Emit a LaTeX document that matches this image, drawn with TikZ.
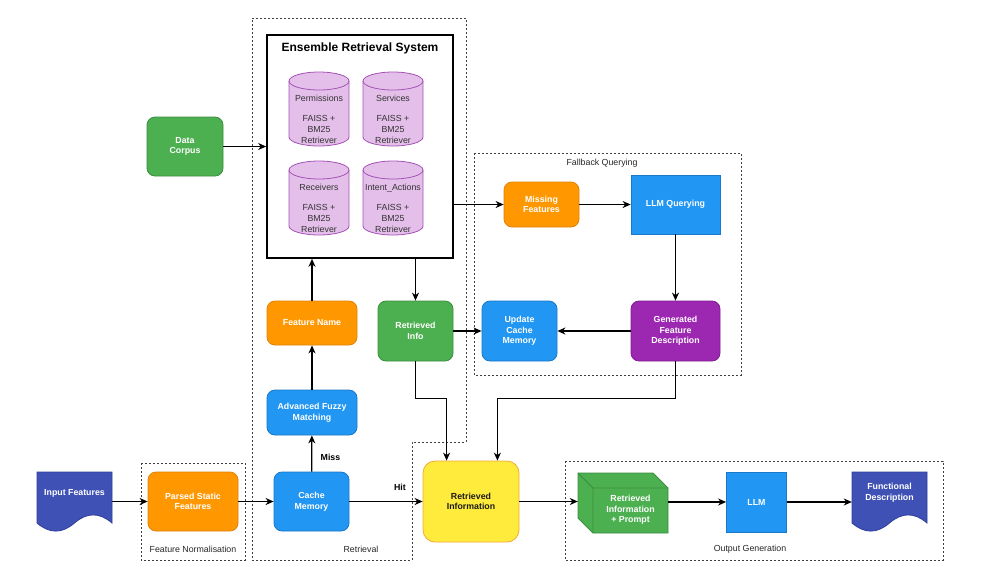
\documentclass[tikz,border=0pt]{standalone}
\usepackage{fontspec}
\setmainfont{Liberation Sans}
\usepackage{xcolor}
\usetikzlibrary{arrows.meta}
\definecolor{matorange}{HTML}{FF9800}
\definecolor{orangeline}{HTML}{E0810A}
\definecolor{matblue}{HTML}{2196F3}
\definecolor{blueline}{HTML}{1A78C8}
\definecolor{matgreen}{HTML}{4CAF50}
\definecolor{greenline}{HTML}{3B8E3F}
\definecolor{matpurple}{HTML}{9C27B0}
\definecolor{purpleline}{HTML}{7D1F8E}
\definecolor{matindigo}{HTML}{3F51B5}
\definecolor{indigoline}{HTML}{2F3F99}
\definecolor{matyellow}{HTML}{FFEB3B}
\definecolor{yellowline}{HTML}{F2A93B}
\definecolor{cylfill}{HTML}{E4BFEA}
\definecolor{cylline}{HTML}{A553B5}

% document shape, top-left corner, width, height
\newcommand{\docshape}[3]{%
  \begin{scope}[shift={#1}, x={(#2,0)}, y={(0,-#3)}]
    \path[docpaint] (0,0) -- (1,0) -- (1,0.85)
      .. controls (0.8333,0.67) and (0.6667,0.67) .. (0.5,0.85)
      .. controls (0.3333,1.03) and (0.1667,1.03) .. (0,0.85) -- cycle;
  \end{scope}}
% retriever cylinder: name, centre, text
\newcommand{\dbcyl}[3]{%
  \begin{scope}[shift={#2}]
    \path[fill=cylfill, draw=cylline, line width=0.8pt] (-30,28) -- (-30,-28)
      arc[start angle=180, end angle=360, x radius=30, y radius=9] -- (30,28)
      arc[start angle=0, end angle=180, x radius=30, y radius=9] -- cycle;
    \draw[draw=cylline, line width=0.8pt] (-30,28) arc[start angle=180, end angle=360, x radius=30, y radius=9];
    \node[cyltext] (#1) at (0,-10) {#3};
  \end{scope}}

\begin{document}
\begin{tikzpicture}[
  x=1pt, y=1pt,
  lbl/.style={font=\fontsize{8.8}{10.6}\selectfont\bfseries, text=white, align=center},
  box/.style={lbl, rectangle, rounded corners=8pt, line width=0.8pt, inner sep=2pt},
  orangebox/.style={box, fill=matorange, draw=orangeline},
  bluebox/.style={box, fill=matblue, draw=blueline},
  greenbox/.style={box, fill=matgreen, draw=greenline},
  purplebox/.style={box, fill=matpurple, draw=purpleline},
  plainblue/.style={box, rounded corners=0pt, fill=matblue, draw=blueline},
  docpaint/.style={fill=matindigo, draw=indigoline, line width=0.8pt},
  cyltext/.style={font=\fontsize{8.8}{10.7}\selectfont, text=black!80, align=center},
  group/.style={draw=black!75, line width=0.7pt, dash pattern=on 2pt off 2pt},
  grouptitle/.style={font=\fontsize{8.8}{11}\selectfont, text=black!85},
  edgelbl/.style={font=\fontsize{8.8}{11}\selectfont\bfseries, text=black},
  arr/.style={-{Stealth[length=8pt,width=7pt,inset=2.5pt]}, line width=1.2pt}
]
\useasboundingbox (0,0) rectangle (985,-574);

% group outlines
\draw[group] (252,-18) -- (466,-18) -- (466,-442) -- (412,-442) -- (412,-560) -- (252,-560) -- cycle;
\draw[group] (474,-153) rectangle (741,-375);
\draw[group] (141,-463) rectangle (245,-560);
\draw[group] (565,-461) rectangle (943,-560);
\node[grouptitle] (retrievaltitle) at (361,-549) {Retrieval};
\node[grouptitle] (fallbacktitle) at (602,-163) {Fallback Querying};
\node[grouptitle] (normtitle) at (193,-549) {Feature Normalisation};
\node[grouptitle] (outtitle) at (750,-549) {Output Generation};

% ensemble retrieval system
\node[draw=black, line width=1.6pt, minimum width=186, minimum height=223] (ens) at (360,-146.5) {};
\node[font=\fontsize{12}{14}\selectfont\bfseries] (enstitle) at (360,-48) {Ensemble Retrieval System};
\dbcyl{perm}{(319,-109)}{Permissions\\[10pt]FAISS +\\BM25\\Retriever}
\dbcyl{serv}{(393,-109)}{Services\\[10pt]FAISS +\\BM25\\Retriever}
\dbcyl{recv}{(319,-198)}{Receivers\\[10pt]FAISS +\\BM25\\Retriever}
\dbcyl{intent}{(393,-198)}{Intent\_Actions\\[10pt]FAISS +\\BM25\\Retriever}

% nodes
\docshape{(37,-472)}{75}{60}
\node[minimum width=75, minimum height=60] (inp) at (74.5,-502) {};
\node[lbl] (inptxt) at (74.5,-493) {Input Features};
\node[orangebox, minimum width=90, minimum height=59] (parsed) at (193,-501.5) {Parsed Static\\Features};
\node[bluebox, minimum width=75, minimum height=59] (cache) at (311.5,-501.5) {Cache\\Memory};
\node[bluebox, minimum width=90, minimum height=45] (fuzzy) at (312,-412.5) {Advanced Fuzzy\\Matching};
\node[orangebox, minimum width=90, minimum height=44] (fname) at (312,-323) {Feature Name};
\node[greenbox, minimum width=76, minimum height=59] (corpus) at (185,-146.5) {Data\\Corpus};
\node[greenbox, minimum width=75, minimum height=60] (rinfo) at (415.5,-331) {Retrieved\\Info};
\node[orangebox, minimum width=75, minimum height=45] (missing) at (541.5,-204.5) {Missing\\Features};
\node[plainblue, minimum width=89, minimum height=59] (llmq) at (675.5,-204.5) {LLM Querying};
\node[purplebox, minimum width=89, minimum height=60] (gen) at (675.5,-331) {Generated\\Feature\\Description};
\node[bluebox, minimum width=75, minimum height=60] (update) at (519.5,-331) {Update\\Cache\\Memory};
\node[box, rounded corners=12pt, fill=matyellow, draw=yellowline, text=black!90, minimum width=96, minimum height=81] (rinf) at (471,-501.5) {Retrieved\\Information};

% cube
\path[fill=matgreen, draw=greenline, line width=0.8pt] (578,-473) -- (653,-473) -- (668,-488) -- (668,-533) -- (593,-533) -- (578,-518) -- cycle;
\draw[greenline, line width=0.8pt] (578,-473) -- (593,-488) -- (668,-488) (593,-488) -- (593,-533);
\node[minimum width=90, minimum height=60] (prompt) at (623,-503) {};
\node[lbl] (prompttxt) at (630.5,-510) {Retrieved\\Information\\+ Prompt};

\node[plainblue, minimum width=60, minimum height=60] (llm) at (756.5,-502) {LLM};
\docshape{(852,-472)}{75}{60}
\node[minimum width=75, minimum height=60] (func) at (889.5,-502) {};
\node[lbl] (functxt) at (889.5,-493) {Functional\\Description};

% connectors
\draw[arr] (inp.east |- parsed.west) -- (parsed.west);
\draw[arr] (parsed) -- (cache);
\draw[arr] (cache) -- node[edgelbl, pos=0.69, above=7pt] {Hit} (rinf);
\draw[arr] (cache) -- node[edgelbl, pos=0.4, right=5pt] {Miss} (fuzzy);
\draw[arr] (fuzzy) -- (fname);
\draw[arr] (fname.north) -- (fname.north |- ens.south);
\draw[arr] (corpus.east) -- (corpus.east -| ens.west);
\draw[arr] (ens.south -| rinfo.north) -- (rinfo.north);
\draw[arr] (ens.east |- missing.west) -- (missing.west);
\draw[arr] (missing) -- (llmq);
\draw[arr] (llmq) -- (gen);
\draw[arr] (gen) -- (update);
\draw[arr] (rinfo) -- (update);
\draw[arr] (rinfo.south) -- ++(0,-37) -| ([xshift=24pt]rinf.north west);
\draw[arr] (gen.south) -- ++(0,-37) -| ([xshift=-22pt]rinf.north east);
\draw[arr] (rinf.east) -- (rinf.east -| prompt.west);
\draw[arr] (prompt.east |- llm.west) -- (llm.west);
\draw[arr] (llm) -- (func);
\end{tikzpicture}
\end{document}
